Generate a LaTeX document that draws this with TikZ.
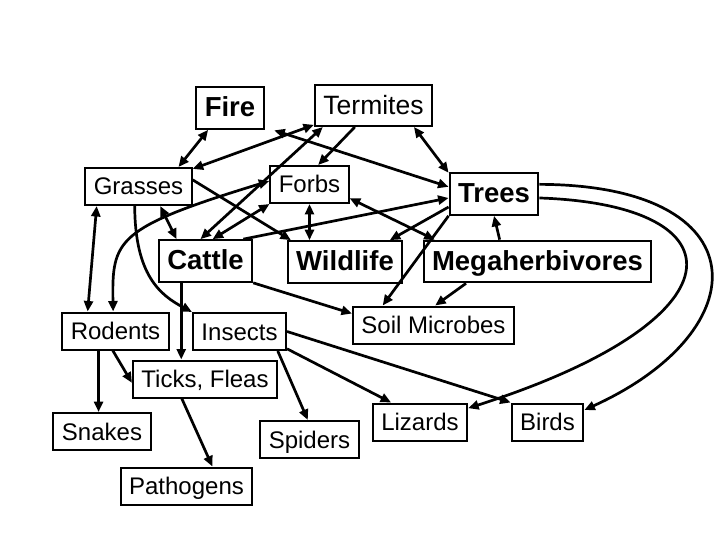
\documentclass[tikz,border=0pt]{standalone}
\usepackage{fontspec}
\setmainfont{Liberation Sans}
\usetikzlibrary{arrows.meta,calc}

\begin{document}
\begin{tikzpicture}[x=1pt,y=-1pt,
    box/.style={draw, line width=2pt, font=\fontsize{24}{28}\selectfont, inner xsep=8.5pt, inner ysep=5pt, text height=22pt, text depth=5pt},
    bigbox/.style={box, font=\fontsize{27.5}{32}\selectfont\bfseries, text height=24.7pt, text depth=7pt},
    arr/.style={line width=2.7pt, -{Triangle[length=10.5pt,width=9pt]}},
    dbl/.style={line width=2.7pt, {Triangle[length=10.5pt,width=9pt]}-{Triangle[length=10.5pt,width=9pt]}}]
    \useasboundingbox (0,0) rectangle (720,540);
    \node[bigbox] (fire) at (230,108) {Fire};
    \node[box, font=\fontsize{26.5}{30}\selectfont, text height=25pt, text depth=6pt] (termites) at (373.5,105.5) {Termites};
    \node[box] (grasses) at (138.5,186.5) {Grasses};
    \node[box] (forbs) at (309.5,184.5) {Forbs};
    \node[bigbox] (trees) at (494,194) {Trees};
    \node[bigbox] (cattle) at (205.5,261) {Cattle};
    \node[bigbox] (wildlife) at (345,262) {Wildlife};
    \node[bigbox] (mega) at (537.5,261.5) {Megaherbivores};
    \node[box] (soil) at (433.5,325) {Soil Microbes};
    \node[box] (rodents) at (115.5,331) {Rodents};
    \node[box] (insects) at (239.5,331.5) {Insects};
    \node[box] (ticks) at (205,379) {Ticks, Fleas};
    \node[box] (snakes) at (102,431.5) {Snakes};
    \node[box] (pathogens) at (186.5,486) {Pathogens};
    \node[box] (spiders) at (309.5,439.5) {Spiders};
    \node[box] (lizards) at (420,422) {Lizards};
    \node[box] (birds) at (547.5,422) {Birds};
    %
    \draw[dbl] (fire.225) -- (grasses.26);
    \draw[dbl] (termites.198) -- (grasses.18);
    \draw[dbl] (termites.203) -- (cattle.103);
    \draw[arr] (termites.229) -- (forbs.66);
    \draw[dbl] (termites.-28) -- (trees.155);
    \draw[dbl, shorten >=10pt] (trees.171) -- (fire.-29);
    \draw[arr] (grasses.7) -- (wildlife.158);
    \draw[dbl] (grasses.-42) -- (cattle.143);
    \draw[dbl] (forbs.206) -- (cattle.72);
    \draw[dbl] (forbs.south) -- (forbs.south |- wildlife.north);
    \draw[dbl] (forbs.-19) -- (mega.168);
    \draw[arr] (cattle.30) -- (trees.185);
    \draw[arr] (trees.196) -- (wildlife.26);
    \draw[arr] (trees.south west) -- (soil.159);
    \draw[arr] (mega.150) -- (trees.south);
    \draw[arr] (mega.197) -- (soil.85);
    \draw[arr] (cattle.south east) -- (soil.172);
    \draw[arr] (trees.-5) .. controls (745,205) and (745,320) .. (lizards.16);
    \draw[arr] (trees.12) .. controls (760,185) and (760,330) .. (birds.18);
    \draw[arr] (insects.east) -- (birds.north west);
    \draw[arr] (insects.-20) -- (lizards.146);
    \draw[arr] (insects.-27) -- (spiders.95);
    \draw[arr] (grasses.-101) .. controls (135,275) and (160,295) .. (insects.north west);
    \draw[dbl] (forbs.175) .. controls (115,228) and (112,240) .. (rodents.97);
    \draw[dbl] (grasses.205) -- (rodents.145);
    \draw[arr] (snakes.100 |- rodents.south) -- (snakes.100);
    \draw[arr] (rodents.-98) -- (ticks.183);
    \draw[arr] (ticks.-140) -- (pathogens.37);
    \draw[arr] (cattle.-138) -- (cattle.-138 |- ticks.north);
    %
\end{tikzpicture}
\end{document}
